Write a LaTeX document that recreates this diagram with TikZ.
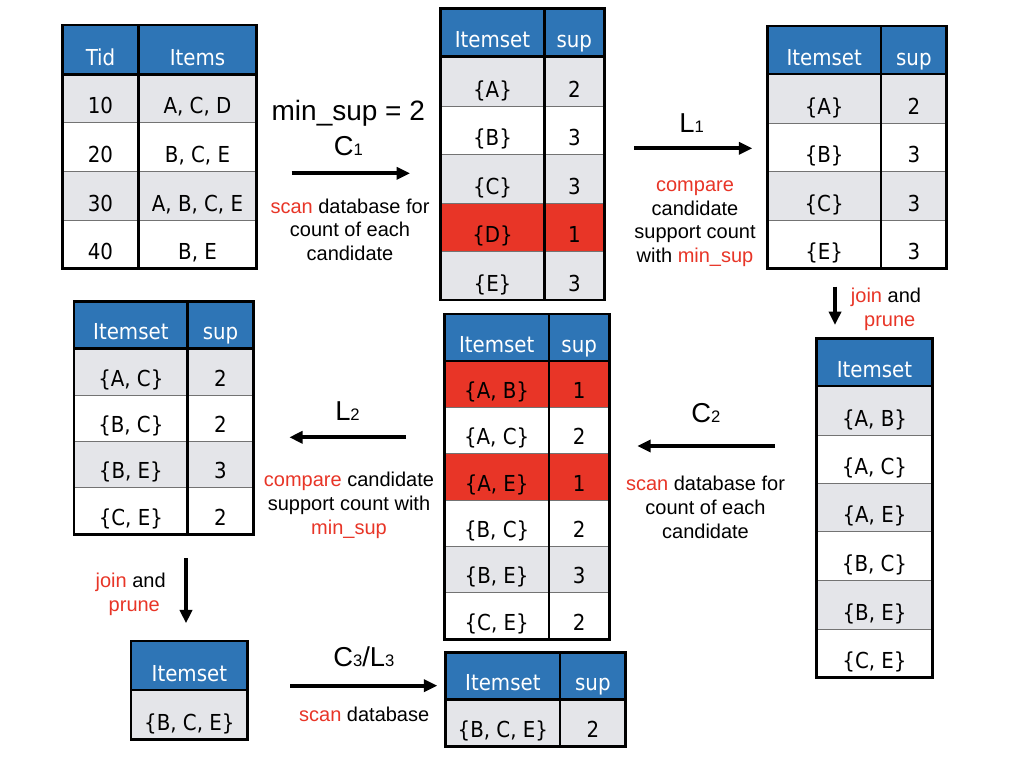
\documentclass[tikz,border=0pt]{standalone}
\usepackage{fontspec}
\setmainfont{Liberation Sans}
\newfontfamily\tabfont{DejaVu Sans Condensed}
\usetikzlibrary{arrows.meta,calc}
\definecolor{hdrblue}{RGB}{46,117,182}
\definecolor{rowgray}{RGB}{228,229,233}
\definecolor{hotred}{RGB}{232,53,39}
\tikzset{
  cell/.style={anchor=base, inner sep=0pt, font=\tabfont\fontsize{16.5}{19}\selectfont, text=black},
  hcell/.style={cell, text=white},
  frame/.style={line width=2.2pt, draw=black},
  rowline/.style={line width=0.7pt, draw=black!55},
  flow/.style={line width=3pt, -{Triangle[length=10pt,width=9pt]}},
  lbl/.style={anchor=base, inner sep=0pt, font=\fontsize{15}{18}\selectfont},
  big/.style={anchor=base, inner sep=0pt, font=\fontsize{21}{24}\selectfont},
  sym/.style={anchor=base, inner sep=0pt, font=\fontsize{20.5}{22}\selectfont},
}
\newcommand\hl[1]{\textcolor{hotred}{#1}}
\newcommand\subsc[1]{{\fontsize{12.5}{12.5}\selectfont #1}}
% two-column row: name, L, D, R, y1, y2, fill, left, right
\newcommand\trow[9]{%
  \fill[#7] (#2,#5) rectangle (#4,#6);
  \draw[rowline] (#2,#5) -- (#4,#5);
  \node[cell] (#1i) at ({(#2+#3)/2},{#6-9}) {#8};
  \node[cell] (#1s) at ({(#3+#4)/2},{#6-9}) {#9};
}
% one-column row: name, L, R, y1, y2, fill, text
\newcommand\trowone[7]{%
  \fill[#6] (#2,#4) rectangle (#3,#5);
  \draw[rowline] (#2,#4) -- (#3,#4);
  \node[cell] (#1i) at ({(#2+#3)/2},{#5-9}) {#7};
}
% header: name, L, D, R, T, H, left, right
\newcommand\thead[8]{%
  \fill[hdrblue] (#2,#5) rectangle (#4,#6);
  \node[hcell] (#1a) at ({(#2+#3)/2},{#6-9}) {#7};
  \node[hcell] (#1b) at ({(#3+#4)/2},{#6-9}) {#8};
}
\newcommand\theadone[5]{%
  \fill[hdrblue] (#2,#4) rectangle (#3,#5);
  \node[hcell] (#1a) at ({(#2+#3)/2},{#5-9}) {Itemset};
}
% frame: L, D, R, T, H, B
\newcommand\tframe[6]{%
  \draw[frame] (#1,#5) -- (#3,#5);
  \draw[frame] (#2,#4) -- (#2,#6);
  \draw[frame] (#1,#4) rectangle (#3,#6);
}
\newcommand\tframeone[5]{%
  \draw[frame] (#1,#4) -- (#2,#4);
  \draw[frame] (#1,#3) rectangle (#2,#5);
}
\begin{document}
\begin{tikzpicture}[x=0.75pt,y=-0.75pt]
\fill[white] (0,0) rectangle (1012,764);

% ---------- database ----------
\thead{db}{62.7}{138.3}{256.7}{25}{74.3}{Tid}{Items}
\trow{dbA}{62.7}{138.3}{256.7}{74.3}{122.7}{rowgray}{10}{A, C, D}
\trow{dbB}{62.7}{138.3}{256.7}{122.7}{171.7}{white}{20}{B, C, E}
\trow{dbC}{62.7}{138.3}{256.7}{171.7}{220}{rowgray}{30}{A, B, C, E}
\trow{dbD}{62.7}{138.3}{256.7}{220}{268.3}{white}{40}{B, E}
\tframe{62.7}{138.3}{256.7}{25}{74.3}{268.3}

% ---------- C1 ----------
\thead{ca}{440.7}{544.3}{604.3}{8.3}{56.7}{Itemset}{sup}
\trow{caA}{440.7}{544.3}{604.3}{56.7}{106}{rowgray}{\{A\}}{2}
\trow{caB}{440.7}{544.3}{604.3}{106}{154.3}{white}{\{B\}}{3}
\trow{caC}{440.7}{544.3}{604.3}{154.3}{203.3}{rowgray}{\{C\}}{3}
\trow{caD}{440.7}{544.3}{604.3}{203.3}{251.7}{hotred}{\{D\}}{1}
\trow{caE}{440.7}{544.3}{604.3}{251.7}{300}{rowgray}{\{E\}}{3}
\tframe{440.7}{544.3}{604.3}{8.3}{56.7}{300}

% ---------- L1 ----------
\thead{la}{767.3}{881}{946.7}{26}{74}{Itemset}{sup}
\trow{laA}{767.3}{881}{946.7}{74}{123}{rowgray}{\{A\}}{2}
\trow{laB}{767.3}{881}{946.7}{123}{171.7}{white}{\{B\}}{3}
\trow{laC}{767.3}{881}{946.7}{171.7}{220}{rowgray}{\{C\}}{3}
\trow{laE}{767.3}{881}{946.7}{220}{268.3}{white}{\{E\}}{3}
\tframe{767.3}{881}{946.7}{26}{74}{268.3}

% ---------- C2 (candidates) ----------
\theadone{cb}{816.7}{932.3}{338.3}{386}
\trowone{cbA}{816.7}{932.3}{386}{435}{rowgray}{\{A, B\}}
\trowone{cbB}{816.7}{932.3}{435}{483.3}{white}{\{A, C\}}
\trowone{cbC}{816.7}{932.3}{483.3}{531.7}{rowgray}{\{A, E\}}
\trowone{cbD}{816.7}{932.3}{531.7}{580}{white}{\{B, C\}}
\trowone{cbE}{816.7}{932.3}{580}{629.3}{rowgray}{\{B, E\}}
\trowone{cbF}{816.7}{932.3}{629.3}{677.7}{white}{\{C, E\}}
\tframeone{816.7}{932.3}{338.3}{386}{677.7}

% ---------- C2 (counted) ----------
\thead{cc}{444.3}{549}{609.3}{314}{361}{Itemset}{sup}
\trow{ccA}{444.3}{549}{609.3}{361}{407.3}{hotred}{\{A, B\}}{1}
\trow{ccB}{444.3}{549}{609.3}{407.3}{453.3}{white}{\{A, C\}}{2}
\trow{ccC}{444.3}{549}{609.3}{453.3}{500}{hotred}{\{A, E\}}{1}
\trow{ccD}{444.3}{549}{609.3}{500}{546.7}{white}{\{B, C\}}{2}
\trow{ccE}{444.3}{549}{609.3}{546.7}{592.7}{rowgray}{\{B, E\}}{3}
\trow{ccF}{444.3}{549}{609.3}{592.7}{639.3}{white}{\{C, E\}}{2}
\tframe{444.3}{549}{609.3}{314}{361}{639.3}

% ---------- L2 ----------
\thead{lb}{74}{187.7}{253.3}{301.7}{348.3}{Itemset}{sup}
\trow{lbA}{74}{187.7}{253.3}{348.3}{395}{rowgray}{\{A, C\}}{2}
\trow{lbB}{74}{187.7}{253.3}{395}{441.7}{white}{\{B, C\}}{2}
\trow{lbC}{74}{187.7}{253.3}{441.7}{487.7}{rowgray}{\{B, E\}}{3}
\trow{lbD}{74}{187.7}{253.3}{487.7}{534.3}{white}{\{C, E\}}{2}
\tframe{74}{187.7}{253.3}{301.7}{348.3}{534.3}

% ---------- C3 ----------
\theadone{cd}{131}{247.7}{641}{690}
\trowone{cdA}{131}{247.7}{690}{739.3}{rowgray}{\{B, C, E\}}
\tframeone{131}{247.7}{641}{690}{739.3}

% ---------- L3 ----------
\thead{lc}{445.7}{560}{625.7}{652.3}{699.3}{Itemset}{sup}
\trow{lcA}{445.7}{560}{625.7}{699.3}{746.7}{rowgray}{\{B, C, E\}}{2}
\tframe{445.7}{560}{625.7}{652.3}{699.3}{746.7}

% ---------- arrows ----------
\coordinate (a1s) at (291.7,173.3); \coordinate (a1e) at (410,173.3);
\coordinate (a2s) at (634.3,148.3); \coordinate (a2e) at (752.3,148.3);
\coordinate (a3s) at (835,286.7);   \coordinate (a3e) at (835,325);
\coordinate (a4s) at (775,446);     \coordinate (a4e) at (637.3,446);
\coordinate (a5s) at (406,437.3);   \coordinate (a5e) at (289.3,437.3);
\coordinate (a6s) at (186,558.3);   \coordinate (a6e) at (186,623.3);
\coordinate (a7s) at (290,685.7);   \coordinate (a7e) at (437.3,685.7);
\draw[flow] (a1s) -- (a1e);
\draw[flow] (a2s) -- (a2e);
\draw[flow] (a3s) -- (a3e);
\draw[flow] (a4s) -- (a4e);
\draw[flow] (a5s) -- (a5e);
\draw[flow] (a6s) -- (a6e);
\draw[flow] (a7s) -- (a7e);

% ---------- labels ----------
\node[big] (minsup) at (348.3,120.7) {min\_sup = 2};
\node[sym] (c1) at (348.3,155) {C\subsc{1}};
\node[lbl] (s1a) at (350,213.3) {\hl{scan} database for};
\node[lbl] (s1b) at (350,236.7) {count of each};
\node[lbl] (s1c) at (350,260) {candidate};

\node[sym] (l1) at (691.7,132.7) {L\subsc{1}};
\node[lbl] (p1a) at (695,191.7) {\hl{compare}};
\node[lbl] (p1b) at (695,215.2) {candidate};
\node[lbl] (p1c) at (695,238.7) {support count};
\node[lbl] (p1d) at (695,262.2) {with \hl{min\_sup}};

\node[lbl] (j1a) at (886,302.7) {\hl{join} and};
\node[lbl] (j1b) at (889.7,326) {\hl{prune}};

\node[sym] (c2) at (705.8,422.7) {C\subsc{2}};
\node[lbl] (s2a) at (705.5,490.7) {\hl{scan} database for};
\node[lbl] (s2b) at (705.5,514.3) {count of each};
\node[lbl] (s2c) at (705.5,538.3) {candidate};

\node[sym] (l2) at (347.5,420.7) {L\subsc{2}};
\node[lbl] (p2a) at (349,486.7) {\hl{compare} candidate};
\node[lbl] (p2b) at (349,510.7) {support count with};
\node[lbl] (p2c) at (349,534.3) {\hl{min\_sup}};

\node[lbl] (j2a) at (130.7,587.3) {\hl{join} and};
\node[lbl] (j2b) at (134.3,611.7) {\hl{prune}};

\node[sym] (c3) at (363.8,666.7) {C\subsc{3}/L\subsc{3}};
\node[lbl] (s3a) at (364.2,721.7) {\hl{scan} database};
\end{tikzpicture}
\end{document}
